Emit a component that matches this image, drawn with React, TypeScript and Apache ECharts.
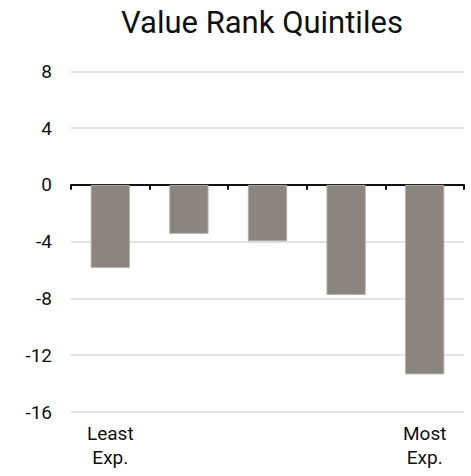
import React, { useEffect, useRef } from "react";
import * as echarts from "echarts";

const title = "Value Rank Quintiles";
const categories = ["Least\nExp.", "", "", "", "Most\nExp."];
const values = [-5.85, -3.45, -3.97, -7.75, -13.35];
const yMin = -16;
const yMax = 8;
const yInterval = 4;

const FONT = "Roboto";

export default function App() {
  const ref = useRef<HTMLDivElement>(null);
  useEffect(() => {
    document.body.style.margin = "0";
    const chart = echarts.init(ref.current!, null, { renderer: "svg" });
    chart.setOption({
      animation: false,
      backgroundColor: "#ffffff",
      title: {
        text: title,
        left: 116,
        top: 2,
        textStyle: { fontFamily: FONT, fontSize: 31, fontWeight: "normal", color: "#111" },
      },
      grid: { left: 71, right: 7, top: 71.3, bottom: 64, containLabel: false },
      xAxis: [
        {
          type: "category",
          data: categories,
          axisLine: { show: true, onZero: true, lineStyle: { color: "#111", width: 2 } },
          axisTick: { show: true, length: 5, lineStyle: { color: "#111", width: 2 } },
          axisLabel: { show: false },
          splitLine: { show: false },
        },
        {
          type: "category",
          data: categories,
          position: "bottom",
          axisLine: { show: false, onZero: false },
          axisTick: { show: false },
          axisLabel: {
            show: true,
            interval: 0,
            margin: 9,
            fontFamily: FONT,
            fontSize: 19,
            lineHeight: 24,
            color: "#111",
            align: "center",
          },
          splitLine: { show: false },
        },
      ],
      yAxis: {
        type: "value",
        min: yMin,
        max: yMax,
        interval: yInterval,
        axisLine: { show: false },
        axisTick: { show: false },
        axisLabel: { fontFamily: FONT, fontSize: 19, color: "#111", margin: 19 },
        splitLine: { show: true, lineStyle: { color: "#d9d9d9", width: 1.5 } },
      },
      series: [
        {
          type: "bar",
          xAxisIndex: 0,
          data: values,
          barWidth: "50%",
          itemStyle: { color: "#8a857e", borderColor: "#b3afa9", borderWidth: 1 },
          z: 1,
        },
      ],
    });
    return () => chart.dispose();
  }, []);
  return <div ref={ref} style={{ width: 471, height: 476 }} />;
}
